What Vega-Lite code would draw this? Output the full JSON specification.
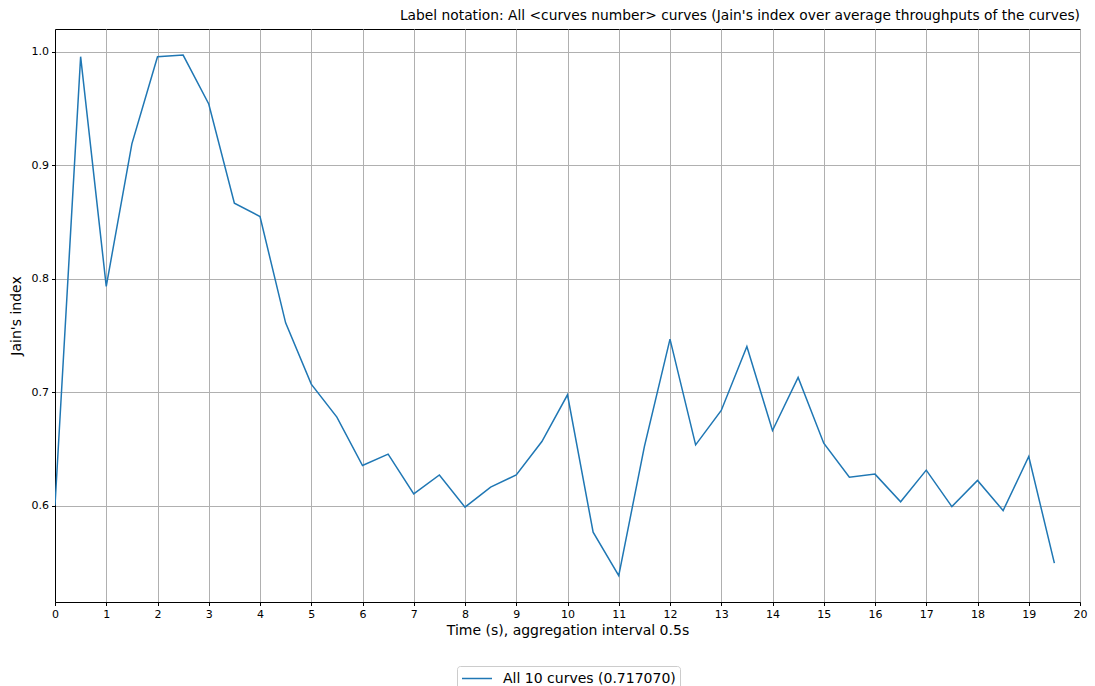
{
  "$schema": "https://vega.github.io/schema/vega-lite/v6.json",
  "width": 1025,
  "height": 573,
  "autosize": {"type": "none"},
  "padding": {"left": 55, "top": 29, "right": 15, "bottom": 84},
  "background": "white",
  "config": {
    "font": "DejaVu Sans",
    "view": {"stroke": "#000000", "strokeWidth": 1},
    "axis": {
      "grid": true,
      "gridColor": "#b0b0b0",
      "gridWidth": 1,
      "domainColor": "#000000",
      "tickColor": "#000000",
      "tickSize": 3.5,
      "labelColor": "#000000",
      "titleColor": "#000000",
      "labelFont": "DejaVu Sans",
      "titleFont": "DejaVu Sans",
      "labelFontSize": 11,
      "titleFontSize": 14,
      "titleFontWeight": "normal",
      "labelFlush": false
    }
  },
  "title": {
    "text": "Label notation: All <curves number> curves (Jain's index over average throughputs of the curves)",
    "anchor": "end",
    "frame": "group",
    "fontSize": 13.8,
    "fontWeight": "normal",
    "font": "DejaVu Sans",
    "color": "#000000",
    "offset": 6
  },
  "data": {
    "values": [
      {"t": 0, "j": 0.600, "s": "All 10 curves (0.717070)"},
      {"t": 0.5, "j": 0.9956, "s": "All 10 curves (0.717070)"},
      {"t": 1, "j": 0.7932, "s": "All 10 curves (0.717070)"},
      {"t": 1.5, "j": 0.9188, "s": "All 10 curves (0.717070)"},
      {"t": 2, "j": 0.9956, "s": "All 10 curves (0.717070)"},
      {"t": 2.5, "j": 0.997, "s": "All 10 curves (0.717070)"},
      {"t": 3, "j": 0.9539, "s": "All 10 curves (0.717070)"},
      {"t": 3.5, "j": 0.8665, "s": "All 10 curves (0.717070)"},
      {"t": 4, "j": 0.8547, "s": "All 10 curves (0.717070)"},
      {"t": 4.5, "j": 0.761, "s": "All 10 curves (0.717070)"},
      {"t": 5, "j": 0.707, "s": "All 10 curves (0.717070)"},
      {"t": 5.5, "j": 0.678, "s": "All 10 curves (0.717070)"},
      {"t": 6, "j": 0.6353, "s": "All 10 curves (0.717070)"},
      {"t": 6.5, "j": 0.6453, "s": "All 10 curves (0.717070)"},
      {"t": 7, "j": 0.6103, "s": "All 10 curves (0.717070)"},
      {"t": 7.5, "j": 0.627, "s": "All 10 curves (0.717070)"},
      {"t": 8, "j": 0.5986, "s": "All 10 curves (0.717070)"},
      {"t": 8.5, "j": 0.6162, "s": "All 10 curves (0.717070)"},
      {"t": 9, "j": 0.627, "s": "All 10 curves (0.717070)"},
      {"t": 9.5, "j": 0.6564, "s": "All 10 curves (0.717070)"},
      {"t": 10, "j": 0.6976, "s": "All 10 curves (0.717070)"},
      {"t": 10.5, "j": 0.5765, "s": "All 10 curves (0.717070)"},
      {"t": 11, "j": 0.5383, "s": "All 10 curves (0.717070)"},
      {"t": 11.5, "j": 0.652, "s": "All 10 curves (0.717070)"},
      {"t": 12, "j": 0.7467, "s": "All 10 curves (0.717070)"},
      {"t": 12.5, "j": 0.6535, "s": "All 10 curves (0.717070)"},
      {"t": 13, "j": 0.6838, "s": "All 10 curves (0.717070)"},
      {"t": 13.5, "j": 0.7402, "s": "All 10 curves (0.717070)"},
      {"t": 14, "j": 0.6661, "s": "All 10 curves (0.717070)"},
      {"t": 14.5, "j": 0.7129, "s": "All 10 curves (0.717070)"},
      {"t": 15, "j": 0.655, "s": "All 10 curves (0.717070)"},
      {"t": 15.5, "j": 0.625, "s": "All 10 curves (0.717070)"},
      {"t": 16, "j": 0.6277, "s": "All 10 curves (0.717070)"},
      {"t": 16.5, "j": 0.6033, "s": "All 10 curves (0.717070)"},
      {"t": 17, "j": 0.6312, "s": "All 10 curves (0.717070)"},
      {"t": 17.5, "j": 0.5991, "s": "All 10 curves (0.717070)"},
      {"t": 18, "j": 0.6221, "s": "All 10 curves (0.717070)"},
      {"t": 18.5, "j": 0.5956, "s": "All 10 curves (0.717070)"},
      {"t": 19, "j": 0.6432, "s": "All 10 curves (0.717070)"},
      {"t": 19.5, "j": 0.5492, "s": "All 10 curves (0.717070)"}
    ]
  },
  "mark": {"type": "line", "strokeWidth": 1.5, "clip": true},
  "encoding": {
    "x": {
      "field": "t",
      "type": "quantitative",
      "scale": {"domain": [0, 20], "nice": false, "zero": false},
      "axis": {"values": [0,1,2,3,4,5,6,7,8,9,10,11,12,13,14,15,16,17,18,19,20], "format": "d", "title": "Time (s), aggregation interval 0.5s", "titlePadding": 4, "labelPadding": 3}
    },
    "y": {
      "field": "j",
      "type": "quantitative",
      "scale": {"domain": [0.515, 1.02], "nice": false, "zero": false},
      "axis": {"values": [0.6, 0.7, 0.8, 0.9, 1.0], "format": ".1f", "title": "Jain's index", "titlePadding": 8, "labelPadding": 3}
    },
    "color": {
      "field": "s",
      "type": "nominal",
      "scale": {"range": ["#1f77b4"]},
      "legend": {
        "title": null,
        "orient": "none",
        "legendX": 402,
        "legendY": 637,
        "symbolType": "M-1,0H3",
        "symbolSize": 225,
        "symbolStrokeWidth": 1.5,
        "labelFontSize": 14,
        "labelFont": "DejaVu Sans",
        "labelColor": "#000000",
        "labelLimit": 400,
        "labelOffset": 25,
        "strokeColor": "#cccccc",
        "fillColor": "white",
        "cornerRadius": 3,
        "padding": 4
      }
    }
  }
}
